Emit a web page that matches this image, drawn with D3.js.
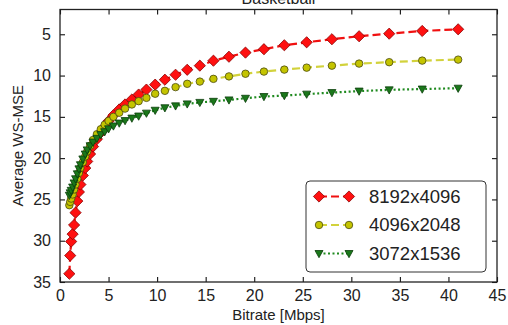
<!DOCTYPE html>
<html><head><meta charset="utf-8">
<script src="https://cdn.jsdelivr.net/npm/d3@7"></script>
<style>body{margin:0;background:#fff}svg{display:block;font-family:"Liberation Sans",Arial,sans-serif}</style>
</head><body><svg id="c" width="508" height="325"></svg>
<script>
const title = "Basketball";
const xLabel = "Bitrate [Mbps]";
const yLabel = "Average WS-MSE";
const xTicks = [0,5,10,15,20,25,30,35,40,45];
const yTicks = [5,10,15,20,25,30,35];
const bitrate = [0.96,1.05,1.15,1.3,1.45,1.6,1.78,1.95,2.1,2.35,2.6,2.8,3.1,3.4,3.8,4.2,4.6,5.0,5.5,6.1,6.7,7.4,8.1,8.9,9.8,10.8,11.9,13.1,14.4,15.8,17.4,19.1,21.0,23.1,25.4,28.0,30.8,33.9,37.3,41.0];
const mse8192 = [34.0,31.8,30.1,29.2,28.1,26.6,25.2,24.1,23.2,22.1,21.2,20.4,19.5,18.6,17.7,16.9,16.2,15.5,14.8,14.1,13.5,12.9,12.3,11.7,11.1,10.5,9.9,9.3,8.8,8.2,7.72,7.22,6.81,6.33,5.97,5.6,5.24,4.93,4.6,4.4];
const mse4096 = [25.7,25.3,24.9,24.4,23.8,23.2,22.5,21.8,21.2,20.5,19.8,19.2,18.5,17.8,17.1,16.5,15.95,15.5,15.0,14.5,14.0,13.5,13.1,12.7,12.2,11.85,11.4,11.0,10.73,10.4,10.1,9.78,9.52,9.28,9.04,8.8,8.55,8.38,8.19,8.07];
const mse3072 = [24.5,24.2,23.9,23.5,23.0,22.5,21.9,21.3,20.8,20.1,19.5,19.0,18.5,18.05,17.6,17.15,16.8,16.45,16.1,15.75,15.45,15.15,14.9,14.55,14.2,13.9,13.67,13.43,13.25,13.12,12.95,12.75,12.54,12.42,12.25,12.06,11.88,11.73,11.63,11.53];
const seriesNames = ["8192x4096","4096x2048","3072x1536"];

const series = [
  {name:seriesNames[0], vals:mse8192, line:"#f01010", dash:"8,4", fill:"#ff1010", stroke:"#8a0000", marker:d3.symbolDiamond2, msize:80},
  {name:seriesNames[1], vals:mse4096, line:"#d2d23c", dash:"8,4", fill:"#c4c400", stroke:"#4a4a10", marker:d3.symbolCircle, msize:44},
  {name:seriesNames[2], vals:mse3072, line:"#1f8a1f", dash:"2,2.5", fill:"#1a781a", stroke:"#0b3d0b", marker:"tri", msize:8}
];

const svg = d3.select("#c");
const L=60,R=497,T=9.5,B=282;
const x = d3.scaleLinear().domain([0,45]).range([L,R]);
const y = d3.scaleLinear().domain([2,35]).range([T,B]);

svg.append("rect").attr("width",508).attr("height",325).attr("fill","#fff");

function drawMarker(g, s, cx, cy){
  if(s.marker==="tri"){
    const w=s.msize/2;
    g.append("path").attr("d",`M${cx-w},${cy-w*0.75}L${cx+w},${cy-w*0.75}L${cx},${cy+w*1.05}Z`)
      .attr("fill",s.fill).attr("stroke",s.stroke).attr("stroke-width",0.8);
  } else {
    g.append("path").attr("d",d3.symbol().type(s.marker).size(s.msize)())
      .attr("transform",`translate(${cx},${cy})`)
      .attr("fill",s.fill).attr("stroke",s.stroke).attr("stroke-width",0.8);
  }
}

const plot = svg.append("g");
series.forEach(s=>{
  const pts = bitrate.map((b,i)=>[b,s.vals[i]]);
  plot.append("path").datum(pts)
    .attr("d",d3.line().x(d=>x(d[0])).y(d=>y(d[1])))
    .attr("fill","none").attr("stroke",s.line).attr("stroke-width",2.2)
    .attr("stroke-dasharray",s.dash);
  const mg = plot.append("g");
  pts.forEach(d=>drawMarker(mg,s,x(d[0]),y(d[1])));
});

// axes
const ax = svg.append("g");
const axB = d3.axisBottom(x).tickValues(xTicks).tickSize(-5).tickPadding(8).tickFormat(d3.format("d"));
const axT = d3.axisTop(x).tickValues(xTicks).tickSize(-5).tickFormat("");
const axL = d3.axisLeft(y).tickValues(yTicks).tickSize(-5).tickPadding(9).tickFormat(d3.format("d"));
const axR = d3.axisRight(y).tickValues(yTicks).tickSize(-5).tickFormat("");
[[axB,`translate(0,${B})`],[axT,`translate(0,${T})`],[axL,`translate(${L},0)`],[axR,`translate(${R},0)`]].forEach(([a,t])=>{
  const g = ax.append("g").attr("transform",t).call(a);
  g.select(".domain").remove();
  g.selectAll(".tick line").attr("stroke","#111").attr("stroke-width",1.1);
  g.selectAll("text").attr("font-size",16).attr("fill","#222").attr("font-family","Liberation Sans, Arial, sans-serif");
});
ax.append("rect").attr("x",L).attr("y",T).attr("width",R-L).attr("height",B-T)
  .attr("fill","none").attr("stroke","#222").attr("stroke-width",1.3);

svg.append("text").attr("x",(L+R)/2).attr("y",4).attr("text-anchor","middle")
  .attr("font-size",16).attr("fill","#222").text(title);
svg.append("text").attr("x",(L+R)/2).attr("y",320).attr("text-anchor","middle")
  .attr("font-size",15).attr("fill","#222").text(xLabel);
svg.append("text").attr("transform",`translate(23,${(T+B)/2}) rotate(-90)`).attr("text-anchor","middle")
  .attr("font-size",15).attr("fill","#222").text(yLabel);

// legend
const lg = svg.append("g");
lg.append("rect").attr("x",306).attr("y",181).attr("width",180).attr("height",91).attr("rx",4)
  .attr("fill","#fff").attr("stroke","#333").attr("stroke-width",1);
const rowY = [196.5,225,253.5];
series.forEach((s,i)=>{
  const yy=rowY[i];
  lg.append("line").attr("x1",319).attr("x2",349).attr("y1",yy).attr("y2",yy)
    .attr("stroke",s.line).attr("stroke-width",2.2).attr("stroke-dasharray",s.dash);
  drawMarker(lg,s,319,yy); drawMarker(lg,s,349,yy);
  lg.append("text").attr("x",369).attr("y",yy).attr("dy","0.35em").attr("font-size",18.5)
    .attr("fill","#222").text(s.name);
});
</script></body></html>
